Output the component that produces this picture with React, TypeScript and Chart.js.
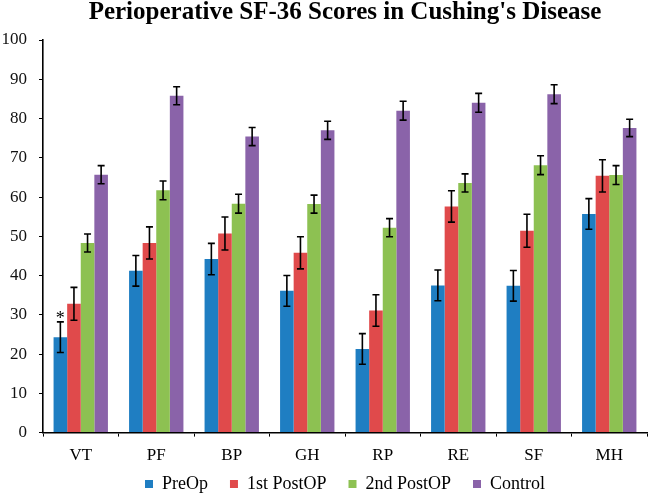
import React, { useEffect, useRef } from "react";
import { Chart, registerables } from "chart.js";

Chart.register(...registerables);

const categories = ["VT", "PF", "BP", "GH", "RP", "RE", "SF", "MH"];
const seriesNames = ["PreOp", "1st PostOP", "2nd PostOP", "Control"];
const preOp = [24.3, 41.2, 44.2, 36.1, 21.3, 37.5, 37.4, 55.7];
const post1 = [32.8, 48.3, 50.7, 45.8, 31.1, 57.6, 51.4, 65.4];
const post2 = [48.3, 61.7, 58.3, 58.2, 52.2, 63.6, 68.1, 65.6];
const control = [65.7, 85.8, 75.4, 77.0, 82.0, 84.0, 86.2, 77.6];
const preOpErr = [3.9, 3.9, 4.0, 3.9, 3.9, 3.9, 3.9, 3.9];
const post1Err = [4.2, 4.1, 4.2, 4.1, 4.0, 4.0, 4.2, 4.1];
const post2Err = [2.3, 2.4, 2.4, 2.3, 2.3, 2.3, 2.4, 2.4];
const controlErr = [2.3, 2.3, 2.3, 2.3, 2.4, 2.4, 2.4, 2.2];
const colors = ["#1F7EC2", "#E04A4B", "#8DC152", "#8A63A9"];
const yTicks = [0, 10, 20, 30, 40, 50, 60, 70, 80, 90, 100];
const markers = [{ category: "VT", series: 0, text: "*" }];

const values = [preOp, post1, post2, control];
const errors = [preOpErr, post1Err, post2Err, controlErr];

const legendShiftPlugin = {
  id: "legendShift",
  afterLayout(chart: any) {
    const lg = chart.legend;
    if (lg) {
      lg.top -= 7;
      lg.bottom -= 7;
    }
  },
};

const errorBarPlugin = {
  id: "errorBars",
  afterDatasetsDraw(chart: any) {
    const ctx = chart.ctx;
    const yScale = chart.scales.y;
    ctx.save();
    ctx.strokeStyle = "#000";
    ctx.lineWidth = 1.6;
    chart.data.datasets.forEach((ds: any, di: number) => {
      const meta = chart.getDatasetMeta(di);
      meta.data.forEach((bar: any, i: number) => {
        const v = ds.data[i];
        const e = errors[di][i];
        const x = bar.x;
        const yTop = yScale.getPixelForValue(v + e);
        const yBot = yScale.getPixelForValue(v - e);
        const cap = 3.5;
        ctx.beginPath();
        ctx.moveTo(x, yTop);
        ctx.lineTo(x, yBot);
        ctx.moveTo(x - cap, yTop);
        ctx.lineTo(x + cap, yTop);
        ctx.moveTo(x - cap, yBot);
        ctx.lineTo(x + cap, yBot);
        ctx.stroke();
      });
    });
    ctx.fillStyle = "#000";
    ctx.font = "18px 'Liberation Serif'";
    ctx.textAlign = "center";
    ctx.textBaseline = "alphabetic";
    markers.forEach((m) => {
      const i = categories.indexOf(m.category);
      const bar = chart.getDatasetMeta(m.series).data[i];
      const v = values[m.series][i] + errors[m.series][i];
      const y = yScale.getPixelForValue(v);
      ctx.fillText(m.text, bar.x, y + 2);
    });
    ctx.restore();
  },
};

export default function App() {
  const ref = useRef<HTMLCanvasElement | null>(null);
  useEffect(() => {
    if (!ref.current) return;
    const chart = new Chart(ref.current, {
      type: "bar",
      data: {
        labels: categories,
        datasets: seriesNames.map((name, i) => ({
          label: name,
          data: values[i],
          backgroundColor: colors[i],
          borderWidth: 0,
          categoryPercentage: 0.72,
          barPercentage: 1.0,
        })),
      },
      options: {
        animation: false,
        responsive: false,
        devicePixelRatio: 1,
        layout: { padding: { left: 0, right: 3, top: 0, bottom: -14 } },
        plugins: {
          title: {
            display: true,
            text: "Perioperative SF-36 Scores in Cushing's Disease",
            fullSize: false,
            color: "#000",
            font: { family: "'Liberation Serif'", size: 25, weight: "bold", lineHeight: 1.0 },
            padding: { top: 0, bottom: 15 },
          },
          legend: {
            position: "bottom",
            fullSize: false,
            labels: {
              boxWidth: 8,
              boxHeight: 8,
              padding: 22,
              color: "#000",
              font: { family: "'Liberation Serif'", size: 18 },
            },
          },
          tooltip: { enabled: false },
        },
        scales: {
          x: {
            afterFit: (scale: any) => {
              scale.height = scale.height - 15;
            },
            grid: {
              display: true,
              drawOnChartArea: false,
              drawTicks: true,
              tickLength: 4,
              color: "#000",
              lineWidth: 1,
              offset: true,
            },
            border: { display: true, color: "#000", width: 1.6 },
            ticks: {
              color: "#000",
              padding: 9,
              font: { family: "'Liberation Serif'", size: 17 },
            },
          },
          y: {
            min: 0,
            max: 100,
            afterFit: (scale: any) => {
              scale.width = 43;
            },
            afterBuildTicks: (scale: any) => {
              scale.ticks = yTicks.map((v) => ({ value: v }));
            },
            grid: {
              display: true,
              drawOnChartArea: false,
              drawTicks: true,
              tickLength: 4,
              color: "#000",
              lineWidth: 1,
            },
            border: { display: true, color: "#000", width: 1.6 },
            ticks: {
              color: "#111",
              padding: 12,
              font: { family: "'Liberation Serif'", size: 17 },
            },
          },
        },
      },
      plugins: [errorBarPlugin, legendShiftPlugin],
    } as any);
    return () => chart.destroy();
  }, []);
  return (
    <div style={{ position: "fixed", left: 0, top: 0, width: 650, height: 496, background: "#fff" }}>
      <canvas ref={ref} width={650} height={496} style={{ width: 650, height: 496, display: "block" }} />
    </div>
  );
}
